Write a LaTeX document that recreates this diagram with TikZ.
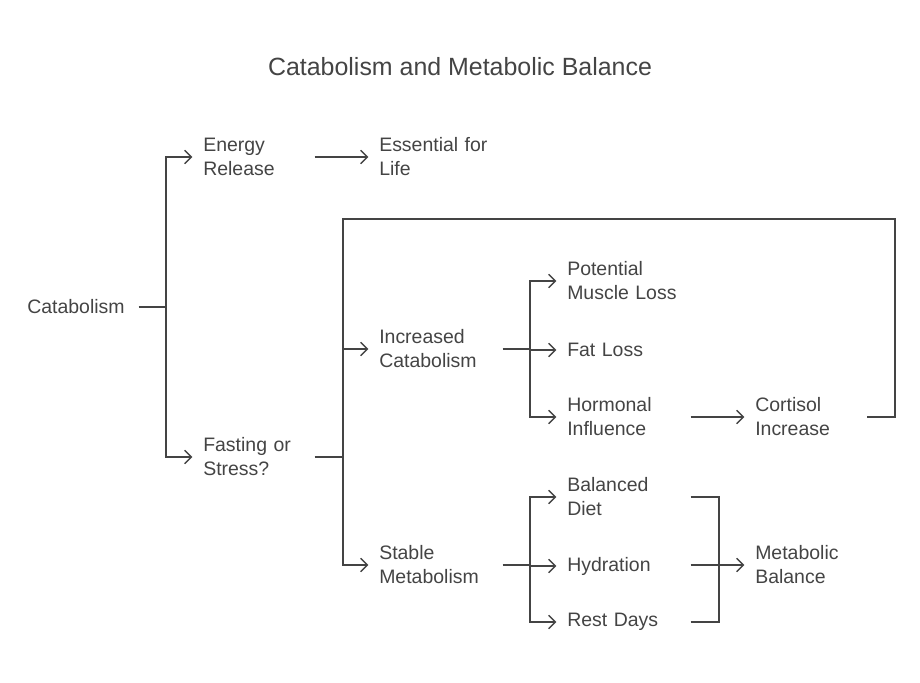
\documentclass[tikz,border=0pt]{standalone}
\usepackage{fontspec}
\setmainfont{Liberation Sans}
\usetikzlibrary{arrows.meta}
\definecolor{ink}{HTML}{444444}
\tikzset{
  item/.style={anchor=west,align=left,inner sep=0pt,text=ink,font=\fontsize{14.6}{18}\selectfont,text width=#1},
  item/.default=83.25pt,
  link/.style={draw=ink,line width=1.1pt},
  arr/.style={link,-{Straight Barb[length=5pt,width=10pt]}}
}
\begin{document}
\begin{tikzpicture}[x=0.75pt,y=-0.75pt]
  \useasboundingbox (0,0) rectangle (920,682);
  % title
  \node[text=ink,font=\fontsize{18.7}{22}\selectfont] (title) at (460,67) {Catabolism and Metabolic Balance};

  % nodes
  \node[item] (cat) at (27,307) {Catabolism};
  \node[item] (energy) at (203,157) {Energy\\Release};
  \node[item] (life) at (379,157) {Essential for\\Life};
  \node[item] (fast) at (203,457) {Fasting or\\Stress?};
  \node[item=92.25pt] (inc) at (379,349) {Increased\\Catabolism};
  \node[item=92.25pt] (stable) at (379,565) {Stable\\Metabolism};
  \node[item=92.25pt] (muscle) at (567,281) {Potential\\Muscle Loss};
  \node[item=92.25pt] (fat) at (567,350) {Fat Loss};
  \node[item=92.25pt] (horm) at (567,417) {Hormonal\\Influence};
  \node[item] (cort) at (755,417) {Cortisol\\Increase};
  \node[item=92.25pt] (diet) at (567,497) {Balanced\\Diet};
  \node[item=92.25pt] (hyd) at (567,566) {Hydration};
  \node[item=92.25pt] (rest) at (567,622) {Rest Days};
  \node[item] (bal) at (755,565) {Metabolic\\Balance};

  % junctions
  \coordinate (j1) at (166,307);
  \coordinate (j2) at (343,457);
  \coordinate (j3) at (530,349);
  \coordinate (j4) at (530,565);
  \coordinate (j5) at (719,565);
  \coordinate (loop) at (895,219);

  % catabolism branches
  \draw[link] (cat.east) -- (j1);
  \draw[arr] (j1) |- ([xshift=-8]energy.west);
  \draw[arr] (j1) |- ([xshift=-8]fast.west);
  \draw[arr] (energy.east) -- ([xshift=-8]life.west);

  % fasting branches
  \draw[link] (fast.east) -- (j2);
  \draw[arr] (j2) |- ([xshift=-8]inc.west);
  \draw[arr] (j2) |- ([xshift=-8]stable.west);
  \draw[link] (j2) |- (loop) |- (cort.east);

  % increased catabolism
  \draw[link] (inc.east) -- (j3);
  \draw[arr] (j3) |- ([xshift=-8]muscle.west);
  \draw[arr] (j3) |- ([xshift=-8]fat.west);
  \draw[arr] (j3) |- ([xshift=-8]horm.west);
  \draw[arr] (horm.east) -- ([xshift=-8]cort.west);

  % stable metabolism
  \draw[link] (stable.east) -- (j4);
  \draw[arr] (j4) |- ([xshift=-8]diet.west);
  \draw[arr] (j4) |- ([xshift=-8]hyd.west);
  \draw[arr] (j4) |- ([xshift=-8]rest.west);
  \draw[link] (diet.east) -| (j5);
  \draw[link] (rest.east) -| (j5);
  \draw[arr] (j5) -- ([xshift=-8]bal.west);
  \draw[link] (hyd.east |- j5) -- (j5);
\end{tikzpicture}
\end{document}
